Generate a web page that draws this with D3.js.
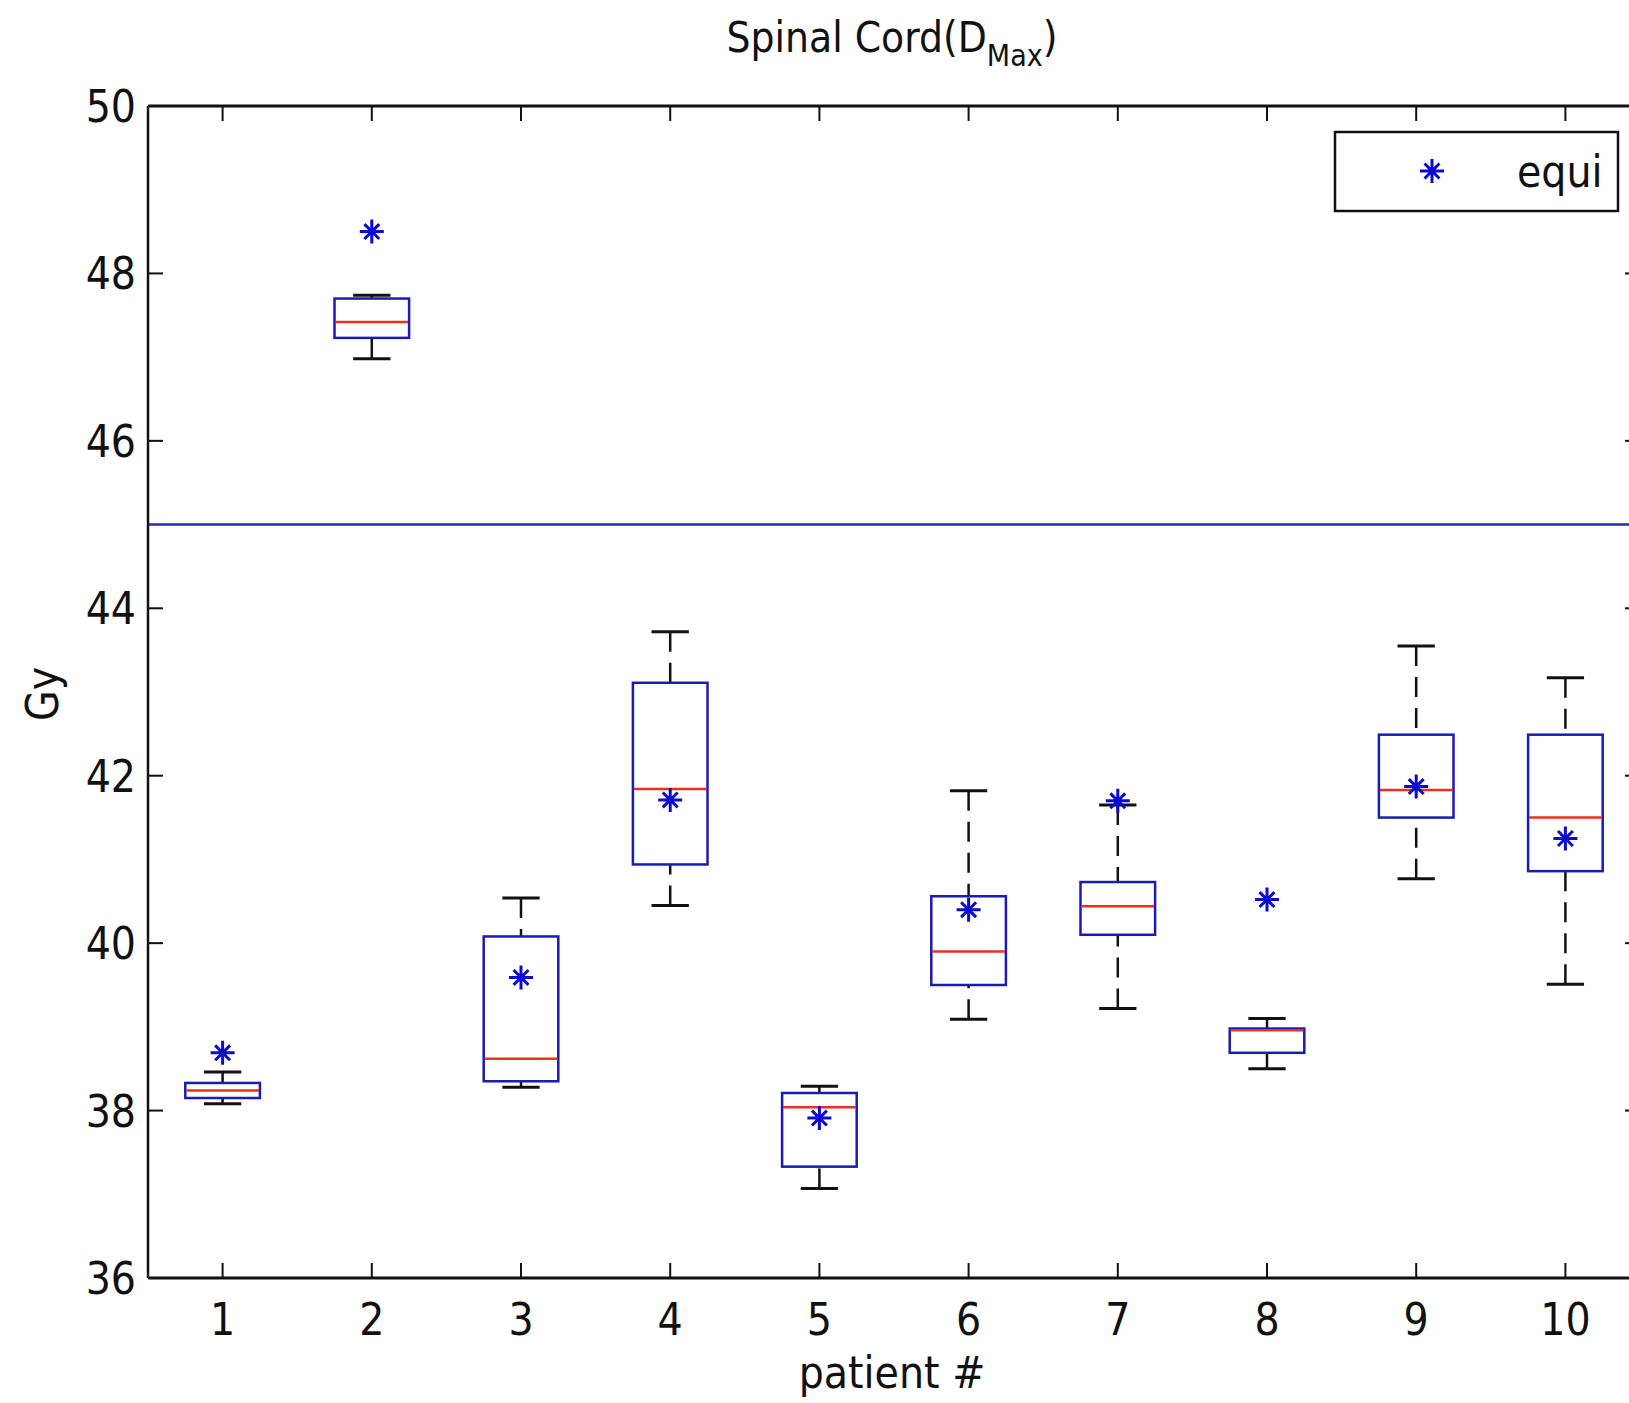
<!DOCTYPE html>
<html>
<head>
<meta charset="utf-8">
<style>
  body { margin: 0; background: #fff; }
  svg text { font-family: "Liberation Sans Narrow", "DejaVu Sans Condensed", "Liberation Sans", sans-serif; fill: #111; }
  .box { fill: none; stroke: #1a1ab4; stroke-width: 2.5; }
  .median { stroke: #e8321e; stroke-width: 2.5; }
  .whisker { stroke: #111; stroke-width: 2.5; stroke-dasharray: 20,11; }
  .cap { stroke: #111; stroke-width: 3; }
  .equi { fill: none; stroke: #0a0ad2; stroke-width: 3; }
  .limit { stroke: #2a2ab8; stroke-width: 2.5; }
</style>
</head>
<body>
<div id="chart"></div>
<script src="https://d3js.org/d3.v7.min.js"></script>
<script>
// values (Gy)
var patients = [1, 2, 3, 4, 5, 6, 7, 8, 9, 10];
var whiskerLow  = [38.08, 46.98, 38.28, 40.45, 37.07, 39.09, 39.22, 38.50, 40.77, 39.51];
var q1          = [38.15, 47.23, 38.35, 40.94, 37.33, 39.50, 40.10, 38.69, 41.50, 40.86];
var median      = [38.24, 47.42, 38.62, 41.84, 38.04, 39.90, 40.44, 38.96, 41.83, 41.50];
var q3          = [38.33, 47.70, 40.08, 43.11, 38.21, 40.56, 40.73, 38.98, 42.49, 42.49];
var whiskerHigh = [38.46, 47.74, 40.54, 43.72, 38.29, 41.82, 41.65, 39.10, 43.55, 43.17];
var equi        = [38.69, 48.50, 39.59, 41.71, 37.91, 40.40, 41.70, 40.52, 41.87, 41.25];
var limitDose = 45;
var yTicks = [36, 38, 40, 42, 44, 46, 48, 50];

var width = 1629;
var height = 1403;

var x = d3.scaleLinear().domain([0.5, 10.5]).range([148, 1640]);
var y = d3.scaleLinear().domain([36, 50]).range([1278, 106]);
var unit = x(1) - x(0);
var boxW = unit * 0.5;
var capW = unit * 0.25;

var svg = d3.select('#chart').append('svg')
    .attr('width', width)
    .attr('height', height);

var rows = patients.map(function (p, i) {
  return { p: p, lo: whiskerLow[i], q1: q1[i], med: median[i], q3: q3[i], hi: whiskerHigh[i], eq: equi[i] };
});

// limit line at 45 Gy
svg.append('line')
    .attr('class', 'limit')
    .attr('x1', x(0.5)).attr('x2', x(10.5))
    .attr('y1', y(limitDose)).attr('y2', y(limitDose));

var g = svg.append('g').selectAll('g')
    .data(rows)
  .enter().append('g');

// whiskers (dashed), drawn from the cap toward the box
g.append('line').attr('class', 'whisker')
    .attr('x1', function (d) { return x(d.p); }).attr('x2', function (d) { return x(d.p); })
    .attr('y1', function (d) { return y(d.hi); }).attr('y2', function (d) { return y(d.q3); });
g.append('line').attr('class', 'whisker')
    .attr('x1', function (d) { return x(d.p); }).attr('x2', function (d) { return x(d.p); })
    .attr('y1', function (d) { return y(d.lo); }).attr('y2', function (d) { return y(d.q1); });

g.append('line').attr('class', 'cap')
    .attr('x1', function (d) { return x(d.p) - capW / 2; }).attr('x2', function (d) { return x(d.p) + capW / 2; })
    .attr('y1', function (d) { return y(d.hi); }).attr('y2', function (d) { return y(d.hi); });
g.append('line').attr('class', 'cap')
    .attr('x1', function (d) { return x(d.p) - capW / 2; }).attr('x2', function (d) { return x(d.p) + capW / 2; })
    .attr('y1', function (d) { return y(d.lo); }).attr('y2', function (d) { return y(d.lo); });

g.append('rect').attr('class', 'box')
    .attr('x', function (d) { return x(d.p) - boxW / 2; })
    .attr('width', boxW)
    .attr('y', function (d) { return y(d.q3); })
    .attr('height', function (d) { return y(d.q1) - y(d.q3); });

g.append('line').attr('class', 'median')
    .attr('x1', function (d) { return x(d.p) - boxW / 2 + 1; }).attr('x2', function (d) { return x(d.p) + boxW / 2 - 1; })
    .attr('y1', function (d) { return y(d.med); }).attr('y2', function (d) { return y(d.med); });

// matlab-style asterisk marker
function star(r) {
  var s = r * 0.62;
  return 'M' + (-r) + ',0L' + r + ',0M0,' + (-r) + 'L0,' + r +
    'M' + (-s) + ',' + (-s) + 'L' + s + ',' + s + 'M' + (-s) + ',' + s + 'L' + s + ',' + (-s);
}

g.append('path').attr('class', 'equi')
    .attr('d', star(12))
    .attr('transform', function (d) { return 'translate(' + x(d.p) + ',' + y(d.eq) + ')'; });

// axes frame
var axes = svg.append('g');
axes.append('line').attr('x1', x(0.5)).attr('x2', x(10.5)).attr('y1', y(50)).attr('y2', y(50))
    .attr('stroke', '#111').attr('stroke-width', 3);
axes.append('line').attr('x1', x(0.5)).attr('x2', x(10.5)).attr('y1', y(36)).attr('y2', y(36))
    .attr('stroke', '#111').attr('stroke-width', 3);
axes.append('line').attr('x1', x(0.5)).attr('x2', x(0.5)).attr('y1', y(50)).attr('y2', y(36))
    .attr('stroke', '#111').attr('stroke-width', 2.5);
axes.append('line').attr('x1', x(10.5)).attr('x2', x(10.5)).attr('y1', y(50)).attr('y2', y(36))
    .attr('stroke', '#111').attr('stroke-width', 2.5);

var tickLen = 15;
patients.forEach(function (p) {
  axes.append('line').attr('x1', x(p)).attr('x2', x(p)).attr('y1', y(36)).attr('y2', y(36) - tickLen)
      .attr('stroke', '#111').attr('stroke-width', 2);
  axes.append('line').attr('x1', x(p)).attr('x2', x(p)).attr('y1', y(50)).attr('y2', y(50) + tickLen)
      .attr('stroke', '#111').attr('stroke-width', 2);
  axes.append('text').attr('x', x(p)).attr('y', y(36) + 57)
      .attr('text-anchor', 'middle').attr('font-size', 44).text(p);
});
yTicks.forEach(function (t) {
  axes.append('line').attr('x1', x(0.5)).attr('x2', x(0.5) + tickLen).attr('y1', y(t)).attr('y2', y(t))
      .attr('stroke', '#111').attr('stroke-width', 2);
  axes.append('line').attr('x1', x(10.5)).attr('x2', x(10.5) - tickLen).attr('y1', y(t)).attr('y2', y(t))
      .attr('stroke', '#111').attr('stroke-width', 2);
  axes.append('text').attr('x', x(0.5) - 12).attr('y', y(t) + 16)
      .attr('text-anchor', 'end').attr('font-size', 44).text(t);
});

// labels
var title = svg.append('text').attr('x', 892).attr('y', 52).attr('text-anchor', 'middle').attr('font-size', 42);
title.append('tspan').text('Spinal Cord(D');
title.append('tspan').attr('font-size', 30).attr('dy', 14).text('Max');
title.append('tspan').attr('dy', -14).text(')');

svg.append('text').attr('x', 892).attr('y', 1388).attr('text-anchor', 'middle').attr('font-size', 44).text('patient #');
svg.append('text').attr('transform', 'translate(58,694) rotate(-90)').attr('text-anchor', 'middle')
    .attr('font-size', 44).text('Gy');

// legend
var legend = svg.append('g');
legend.append('rect').attr('x', 1335).attr('y', 132).attr('width', 283).attr('height', 79)
    .attr('fill', '#fff').attr('stroke', '#111').attr('stroke-width', 2.5);
legend.append('path').attr('class', 'equi').attr('d', star(12)).attr('transform', 'translate(1432,171)');
legend.append('text').attr('x', 1517).attr('y', 187).attr('font-size', 44).text('equi');
</script>
</body>
</html>
